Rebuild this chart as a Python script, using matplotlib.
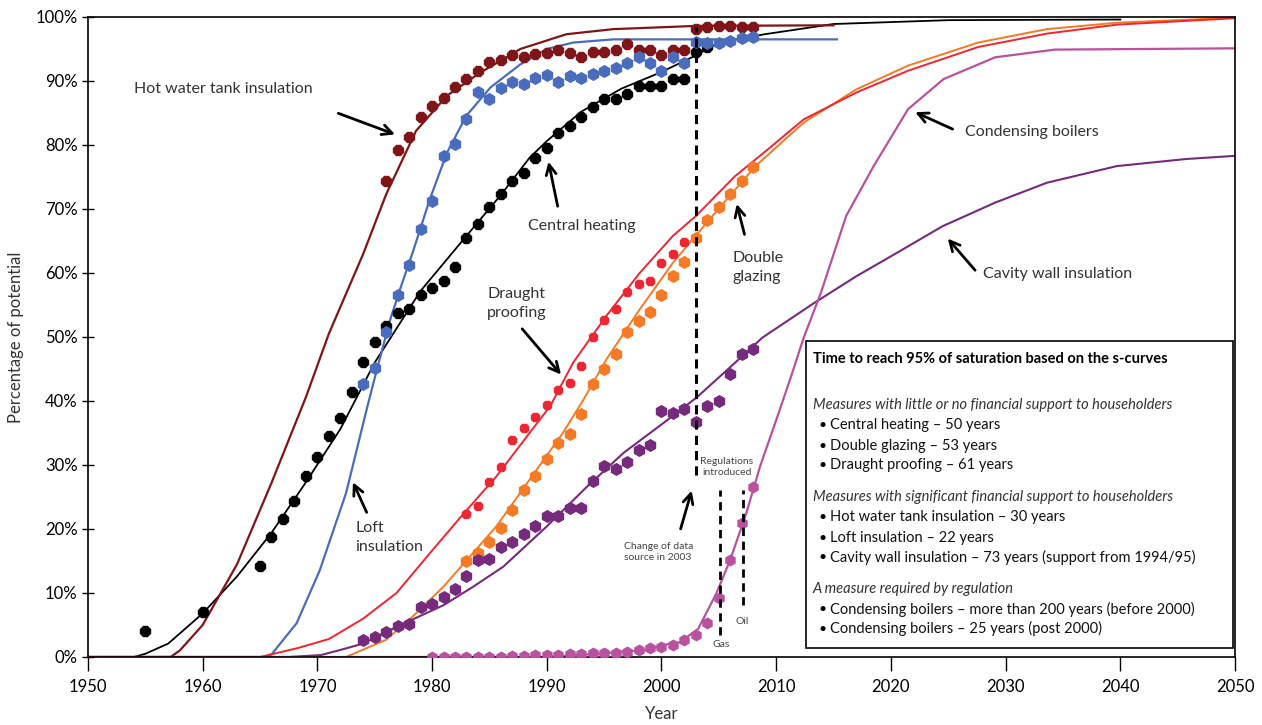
import matplotlib
matplotlib.use("Agg")
import matplotlib.pyplot as plt
from matplotlib.patches import Rectangle
from matplotlib.ticker import PercentFormatter

plt.rcParams["font.family"] = ["Lato", "DejaVu Sans"]

# ---- observed data points (% of potential) ----
ch_years = [1955, 1960] + list(range(1965, 2005))
ch_vals = [4.1, 7.1, 14.2, 18.8, 21.6, 24.3, 28.3, 31.3, 34.5, 37.4, 41.4, 46.1,
           49.2, 51.7, 53.8, 54.3, 56.6, 57.7, 58.8, 61.0, 65.5, 67.6, 70.3, 72.3,
           74.3, 75.6, 78.0, 79.6, 81.9, 83.0, 84.3, 85.9, 87.2, 87.2, 88.0, 89.2,
           89.2, 89.2, 90.3, 90.3, 94.5, 95.3]

hwt_years = list(range(1976, 2009))
hwt_vals = [74.4, 79.2, 81.3, 84.3, 86.1, 87.3, 89.1, 90.3, 91.5, 92.9, 93.2, 94.0,
            93.8, 94.2, 94.4, 94.9, 94.3, 93.7, 94.6, 94.6, 94.9, 95.8, 94.8, 94.8,
            94.0, 94.9, 94.9, 98.1, 98.4, 98.6, 98.6, 98.5, 98.5]

loft_years = list(range(1974, 2009))
loft_vals = [42.6, 45.2, 50.8, 56.5, 61.3, 66.8, 71.2, 78.3, 80.1, 84.0, 88.3, 87.2,
             88.9, 89.8, 89.6, 90.4, 90.9, 89.9, 90.7, 90.5, 91.1, 91.6, 92.1, 92.8,
             93.7, 92.8, 91.6, 93.7, 92.8, 96.1, 96.0, 96.0, 96.3, 96.7, 96.8]

dp_years = list(range(1983, 2003))
dp_vals = [22.3, 23.6, 27.4, 29.7, 33.9, 35.8, 37.5, 39.4, 41.7, 42.8, 45.4, 50.0,
           52.6, 54.4, 57.0, 58.2, 58.7, 61.6, 62.9, 64.8]

dg_years = list(range(1983, 2009))
dg_vals = [15.0, 16.2, 17.9, 20.1, 23.0, 26.1, 28.3, 31.0, 33.4, 34.9, 38.0, 42.6,
           45.0, 47.3, 50.8, 52.5, 53.9, 56.5, 59.6, 61.7, 65.5, 68.3, 70.3, 72.4,
           74.4, 76.5]

cw_years = list(range(1974, 2009))
cw_vals = [2.7, 3.1, 3.9, 4.9, 5.2, 7.8, 8.3, 9.3, 10.6, 12.6, 15.2, 15.3, 17.2,
           17.9, 19.2, 20.4, 22.0, 22.1, 23.3, 23.3, 27.5, 29.8, 29.3, 30.5, 32.4,
           33.2, 38.5, 38.2, 38.8, 36.7, 39.2, 40.0, 44.2, 47.4, 48.2]

cb_years = list(range(1980, 2009))
cb_vals = [0.05, 0.05, 0.05, 0.05, 0.05, 0.05, 0.05, 0.1, 0.15, 0.3, 0.3, 0.3, 0.4,
           0.4, 0.6, 0.6, 0.7, 0.8, 1.1, 1.4, 1.6, 1.9, 2.6, 3.5, 5.3, 9.2, 15.1,
           21.0, 26.5]

# ---- fitted s-curves ----
ch_fit_x = [1950, 1954, 1955, 1957, 1960, 1963, 1966, 1969, 1972, 1975, 1979, 1983,
            1986, 1988.5, 1990, 1993, 1996.5, 2000, 2003, 2005, 2009, 2015, 2025, 2040]
ch_fit_y = [0, 0, 0.5, 2.1, 6.8, 12.6, 19.4, 27.3, 35.6, 46.0, 57.2, 65.8, 72.2,
            78.0, 80.6, 85.2, 88.8, 91.4, 94.0, 96.0, 97.3, 98.9, 99.5, 99.6]

hwt_fit_x = [1950, 1957.2, 1958, 1960, 1963, 1966, 1969, 1971, 1974, 1976, 1978.6,
             1981.3, 1984.2, 1987.7, 1991.7, 1995.8, 2003, 2015]
hwt_fit_y = [0, 0, 1.0, 5.0, 14.5, 27.2, 40.6, 50.5, 63.0, 72.3, 82.2, 87.7, 91.3,
             95.0, 97.3, 98.1, 98.6, 98.7]

loft_fit_x = [1950, 1965.5, 1966, 1968.2, 1970.2, 1972.5, 1974.3, 1975.2, 1976.4,
              1977.2, 1978.4, 1979.8, 1981.3, 1983, 1985.1, 1987.7, 1990, 1992.3,
              1995.8, 2015.3]
loft_fit_y = [0, 0, 0.4, 5.3, 13.5, 25.6, 38.7, 45.0, 53.0, 57.4, 63.7, 71.5, 78.8,
              84.6, 89.0, 92.6, 95.0, 96.0, 96.5, 96.5]

dp_fit_x = [1950, 1965, 1968.3, 1971, 1974, 1976.9, 1979.8, 1982.7, 1985.6, 1988.5,
            1990.3, 1992.3, 1995.2, 1998.1, 2001, 2003, 2006.4, 2009.4, 2012.4,
            2017, 2021.5, 2027.6, 2033.6, 2039.7, 2050]
dp_fit_y = [0, 0, 1.4, 2.8, 6.0, 10.0, 16.2, 22.3, 28.2, 35.0, 39.2, 46.0, 53.3,
            60.0, 65.8, 68.9, 75.1, 79.5, 84.0, 88.2, 91.6, 95.3, 97.4, 98.8, 99.8]

dg_fit_x = [1950, 1972.5, 1976, 1978.3, 1981, 1983.3, 1985.6, 1988.5, 1991.4, 1993.2,
            1995.2, 1998.1, 2001, 2004.2, 2008.2, 2012.4, 2017, 2021.5, 2027.6,
            2033.6, 2039.7, 2050]
dg_fit_y = [0, 0, 2.7, 6.3, 11.0, 15.7, 20.4, 27.7, 35.0, 40.2, 46.5, 54.3, 61.6,
            68.4, 76.7, 83.5, 88.7, 92.4, 96.0, 98.1, 99.1, 99.9]

cw_fit_x = [1950, 1967.5, 1970.3, 1972, 1974, 1976.9, 1981, 1983.6, 1986.2, 1990,
            1993.5, 1996.7, 2000.2, 2003.1, 2006, 2008.8, 2013.3, 2017, 2020, 2024.5,
            2029.1, 2033.6, 2039.7, 2045.7, 2050]
cw_fit_y = [0, 0, 0.3, 1.1, 2.1, 4.7, 8.1, 11.0, 14.1, 20.4, 26.6, 31.9, 36.6, 40.6,
            45.3, 49.9, 55.3, 59.5, 62.6, 67.3, 71.0, 74.1, 76.7, 77.8, 78.3]

cb_fit_x = [1950, 1990, 1994.4, 1998.7, 2000.2, 2001.6, 2003.2, 2004.8, 2006, 2007.4,
            2008.6, 2010, 2011.2, 2012.4, 2013.9, 2016.1, 2018.5, 2021.5, 2024.6,
            2029.1, 2034.3, 2050]
cb_fit_y = [0, 0, 0.5, 1.1, 1.9, 2.3, 4.4, 10.0, 15.2, 22.5, 29.8, 37.0, 43.3, 49.9,
            56.9, 68.9, 76.7, 85.6, 90.3, 93.7, 94.9, 95.1]

c_ch = "#000000"
c_hwt = "#7f1518"
c_loft = "#4a6cbc"
c_dp = "#ee2533"
c_dg = "#f47a25"
c_cw = "#762a7c"
c_cb = "#b8529f"

fig = plt.figure(figsize=(12.62, 7.25), dpi=100)
ax = fig.add_axes([0.0697, 0.0938, 0.9089, 0.8828])

# fitted curves
ax.plot(ch_fit_x, ch_fit_y, color=c_ch, lw=1.3, zorder=2)
ax.plot(hwt_fit_x, hwt_fit_y, color=c_hwt, lw=1.6, zorder=2)
ax.plot(loft_fit_x, loft_fit_y, color=c_loft, lw=1.6, zorder=2)
ax.plot(dg_fit_x, dg_fit_y, color=c_dg, lw=1.4, zorder=2)
ax.plot(cw_fit_x, cw_fit_y, color=c_cw, lw=1.5, zorder=2)
ax.plot(cb_fit_x, cb_fit_y, color=c_cb, lw=1.6, zorder=2)
ax.plot(dp_fit_x, dp_fit_y, color=c_dp, lw=1.4, zorder=2)

# observations
ms = 8.3
ax.plot(ch_years, ch_vals, ls="none", marker="8", ms=ms, color=c_ch, zorder=3)
ax.plot(hwt_years, hwt_vals, ls="none", marker="8", ms=ms, color=c_hwt, zorder=3)
ax.plot(loft_years, loft_vals, ls="none", marker="h", ms=ms, color=c_loft, zorder=3)
ax.plot(dp_years, dp_vals, ls="none", marker="8", ms=6.5, color=c_dp, zorder=3)
ax.plot(dg_years, dg_vals, ls="none", marker="h", ms=ms, color=c_dg, zorder=3)
ax.plot(cw_years, cw_vals, ls="none", marker="h", ms=ms, color=c_cw, zorder=3)
ax.plot(cb_years, cb_vals, ls="none", marker="h", ms=7.5, color=c_cb, zorder=3)

# dashed markers
ax.plot([2003, 2003], [28.5, 98.5], ls=(0, (3, 2)), color="black", lw=2.2, zorder=4)
ax.plot([2005.1, 2005.1], [3.4, 26.1], ls=(0, (3, 2)), color="black", lw=2.0, zorder=4)
ax.plot([2007.1, 2007.1], [8.1, 26.1], ls=(0, (3, 2)), color="black", lw=2.0, zorder=4)

ax.text(2005.7, 29.7, "Regulations\nintroduced", fontsize=7.5, color="#444444",
        ha="center", va="center", linespacing=1.2)
ax.text(1996.7, 16.4, "Change of data\nsource in 2003", fontsize=7.5, color="#444444",
        ha="left", va="center", linespacing=1.3)
ax.text(2005.2, 1.9, "Gas", fontsize=7.5, color="#444444", ha="center", va="center")
ax.text(2007.0, 5.5, "Oil", fontsize=7.5, color="#444444", ha="center", va="center")

# labels with arrows
arrow = dict(arrowstyle="->", color="black", lw=2.0, mutation_scale=18)
labels = [
    ("Hot water tank insulation", (1954.0, 88.8), (1971.6, 85.1), (1977.0, 81.5), "left"),
    ("Central heating", (1988.4, 67.3), (1991.0, 70.0), (1990.1, 77.8), "left"),
    ("Draught\nproofing", (1987.4, 55.2), (1987.7, 51.6), (1991.4, 43.8), "center"),
    ("Loft\ninsulation", (1973.3, 18.6), (1974.4, 22.2), (1973.0, 27.7), "left"),
    ("Double\nglazing", (2006.2, 60.9), (2007.3, 65.6), (2006.5, 71.2), "left"),
    ("Condensing boilers", (2026.5, 82.0), (2025.6, 82.3), (2021.9, 85.3), "left"),
    ("Cavity wall insulation", (2028.0, 59.9), (2027.5, 60.1), (2024.8, 65.7), "left"),
    ("", (0, 0), (2001.6, 19.6), (2002.7, 26.4), "left"),
]
for txt, tpos, tail, head, ha in labels:
    if txt:
        ax.text(tpos[0], tpos[1], txt, fontsize=11.5, color="#333333", ha=ha,
                va="center", linespacing=1.45)
    ax.annotate("", xy=head, xytext=tail, arrowprops=arrow, zorder=5)

# info box
ax.add_patch(Rectangle((2012.6, 1.4), 37.2, 47.9, fill=True, facecolor="white",
                       edgecolor="black", lw=1.2, zorder=6))
box_lines = [
    (46.6, "Time to reach 95% of saturation based on the s-curves", "bold", False),
    (39.3, "Measures with little or no financial support to householders", "italic", False),
    (36.2, "Central heating \u2013 50 years", "normal", True),
    (33.0, "Double glazing \u2013 53 years", "normal", True),
    (30.0, "Draught proofing \u2013 61 years", "normal", True),
    (25.0, "Measures with significant financial support to householders", "italic", False),
    (21.8, "Hot water tank insulation \u2013 30 years", "normal", True),
    (18.6, "Loft insulation \u2013 22 years", "normal", True),
    (15.6, "Cavity wall insulation \u2013 73 years (support from 1994/95)", "normal", True),
    (10.6, "A measure required by regulation", "italic", False),
    (7.5, "Condensing boilers \u2013 more than 200 years (before 2000)", "normal", True),
    (4.4, "Condensing boilers \u2013 25 years (post 2000)", "normal", True),
]
for yy, txt, style, bullet in box_lines:
    if bullet:
        ax.text(2013.7, yy, "\u2022", fontsize=10, ha="left", va="center", zorder=7)
        ax.text(2014.7, yy, txt, fontsize=10.5, ha="left", va="center", zorder=7,
                color="#111111")
    elif style == "bold":
        ax.text(2013.2, yy, txt, fontsize=10.5, fontweight="bold", ha="left",
                va="center", zorder=7)
    else:
        ax.text(2013.2, yy, txt, fontsize=10.5, fontstyle="italic", ha="left",
                va="center", zorder=7, color="#333333")

ax.set_xlim(1950, 2050)
ax.set_ylim(0, 100)
ax.set_xticks(range(1950, 2051, 10))
ax.set_yticks(range(0, 101, 10))
ax.yaxis.set_major_formatter(PercentFormatter(decimals=0))
ax.tick_params(axis="x", direction="out", length=10, width=1, labelsize=12, pad=6)
ax.tick_params(axis="y", direction="inout", length=8, width=1, labelsize=12)
for s in ax.spines.values():
    s.set_linewidth(1.2)
ax.set_xlabel("Year", fontsize=12, color="#333333", labelpad=8)
ax.set_ylabel("Percentage of potential", fontsize=12, color="#333333", labelpad=8)

fig.savefig("out.png", dpi=100)
